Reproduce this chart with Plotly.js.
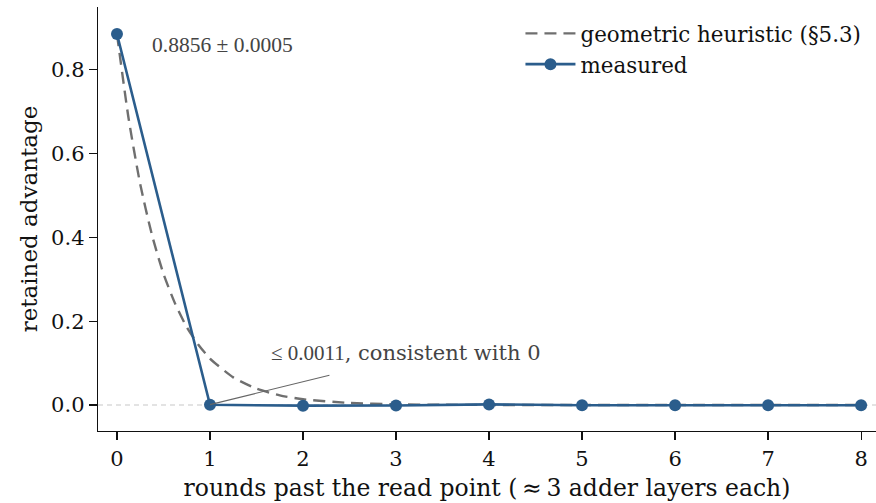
<!DOCTYPE html>
<html>
<head>
<meta charset="utf-8">
<script src="https://cdn.plot.ly/plotly-3.0.1.min.js"></script>
<style>html,body{margin:0;padding:0;background:#fff;}#chart{width:876px;height:503px;}</style>
</head>
<body>
<div id="chart"></div>
<script>
// measured retained advantage per round
const rounds = [0, 1, 2, 3, 4, 5, 6, 7, 8];
const measured = [0.8856, 0.0005, -0.0015, -0.001, 0.0015, -0.0005, -0.0005, -0.0005, -0.0005];

// geometric heuristic (§5.3)
const heurX = [0, 0.125, 0.25, 0.375, 0.5, 0.625, 0.75, 0.875, 1, 1.25, 1.5, 1.75, 2, 2.5, 3, 3.5, 4, 5, 6, 7, 8];
const heurY = [0.8856, 0.684, 0.527, 0.407, 0.313, 0.242, 0.186, 0.144, 0.111, 0.066, 0.039, 0.023, 0.0138, 0.0049, 0.0017, 0.0006, 0.0002, 0.00003, 0.0, 0.0, 0.0];

const xTicks = [0, 1, 2, 3, 4, 5, 6, 7, 8];
const yTicks = [0.0, 0.2, 0.4, 0.6, 0.8];
const yTickText = ['0.0', '0.2', '0.4', '0.6', '0.8'];

const blue = '#2b5d8c';
const font = 'DejaVu Serif';

const traces = [
  {
    x: heurX, y: heurY, mode: 'lines', type: 'scatter',
    name: 'geometric heuristic (§5.3)',
    line: {color: '#6f6f6f', width: 2.4, dash: '12px,7px', shape: 'spline', smoothing: 0.6}
  },
  {
    x: rounds, y: measured, mode: 'lines+markers', type: 'scatter',
    name: 'measured',
    line: {color: blue, width: 2.6},
    marker: {color: blue, size: 12}
  }
];

const layout = {
  width: 876, height: 503,
  margin: {l: 98, r: 0, t: 7, b: 72},
  paper_bgcolor: '#fff', plot_bgcolor: '#fff',
  font: {family: font, size: 21, color: '#111'},
  showlegend: true,
  legend: {
    x: 0.543, y: 0.986, xanchor: 'left', yanchor: 'top',
    bgcolor: 'rgba(255,255,255,0)', font: {family: font, size: 21.4, color: '#111'},
    tracegroupgap: 0, itemwidth: 50
  },
  xaxis: {
    range: [-0.204, 8.16], tickmode: 'array', tickvals: xTicks,
    ticks: 'outside', ticklen: 8, tickwidth: 1.2, tickcolor: '#111',
    showline: true, linecolor: '#111', linewidth: 1.3, showgrid: false, zeroline: false,
    tickfont: {family: font, size: 21, color: '#111'},
    title: {text: 'rounds past the read point (\u2009≈\u20093 adder layers each)', font: {family: font, size: 23.5, color: '#111'}, standoff: 10}
  },
  yaxis: {
    range: [-0.062, 0.95], tickmode: 'array', tickvals: yTicks, ticktext: yTickText,
    ticks: 'outside', ticklen: 8, tickwidth: 1.2, tickcolor: '#111',
    showline: true, linecolor: '#111', linewidth: 1.3, showgrid: false, zeroline: false,
    tickfont: {family: font, size: 21, color: '#111'},
    title: {text: 'retained advantage', font: {family: font, size: 23, color: '#111'}, standoff: 7}
  },
  shapes: [
    {type: 'line', xref: 'paper', x0: 0, x1: 1, yref: 'y', y0: 0, y1: 0,
     line: {color: '#c8c8c8', width: 1.2, dash: '5px,4px'}, layer: 'below'}
  ],
  annotations: [
    {x: 0.35, y: 0.86, xref: 'x', yref: 'y', xanchor: 'left', yanchor: 'middle', showarrow: false,
     text: '0.8856 ± 0.0005', font: {family: 'Liberation Serif', size: 21.5, color: '#444'}},
    {x: 1.0, y: 0.0011, xref: 'x', yref: 'y', ax: 2.3, ay: 0.072, axref: 'x', ayref: 'y',
     showarrow: true, arrowhead: 0, arrowwidth: 1.2, arrowcolor: '#666', text: ''},
    {x: 1.63, y: 0.123, xref: 'x', yref: 'y', xanchor: 'left', yanchor: 'middle', showarrow: false,
     text: '<span style="font-family:Liberation Serif">≤ 0.0011</span>, consistent with 0', font: {family: font, size: 21, color: '#444'}}
  ]
};

Plotly.newPlot('chart', traces, layout, {displayModeBar: false, staticPlot: true});
</script>
</body>
</html>
